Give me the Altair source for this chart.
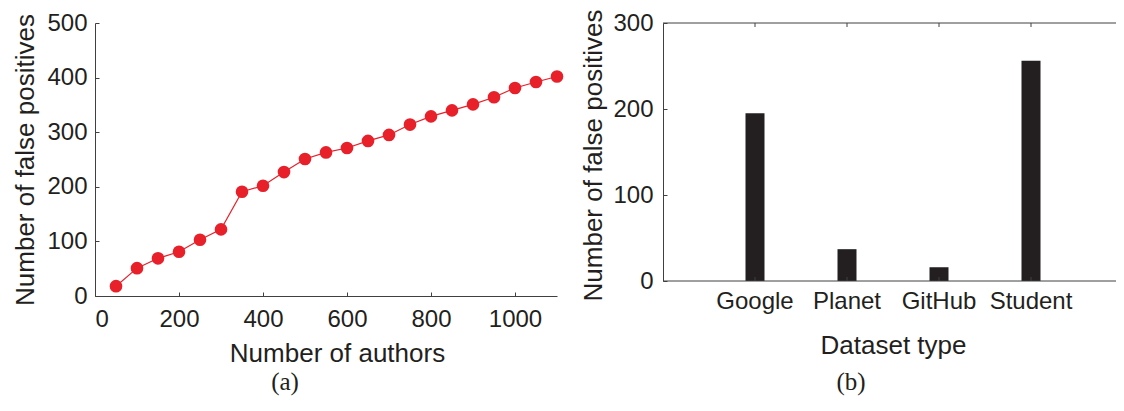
import altair as alt
import pandas as pd

# ---- data (a) ----
authors = [50, 100, 150, 200, 250, 300, 350, 400, 450, 500, 550,
           600, 650, 700, 750, 800, 850, 900, 950, 1000, 1050, 1100]
false_pos_a = [18, 51, 69, 81, 103, 122, 191, 202, 227, 251, 263,
               271, 284, 295, 314, 329, 340, 351, 364, 381, 392, 402]
x_ticks_a = [0, 200, 400, 600, 800, 1000]
y_ticks_a = [0, 100, 200, 300, 400, 500]

# ---- data (b) ----
datasets = ["Google", "Planet", "GitHub", "Student"]
false_pos_b = [195, 37, 16, 256]
y_ticks_b = [0, 100, 200, 300]

df_a = pd.DataFrame({"authors": authors, "fp": false_pos_a})
df_b = pd.DataFrame({"dataset": datasets, "fp": false_pos_b})

FONT = "Liberation Sans"
SERIF = "Liberation Serif"
TXT = "#231f20"
AX = "#404040"
RED = "#e8202a"

WA, HA = 462, 273
WB, HB = 460, 258

axis_common = dict(
    labelFont=FONT, titleFont=FONT, labelFontSize=24, titleFontSize=26,
    labelColor=TXT, titleColor=TXT, titleFontWeight="normal",
    domainColor=AX, domainWidth=1, ticks=False, grid=True,
    gridColor=AX, gridWidth=1, gridOpacity=1,
)

# ---- panel (a) ----
xa = alt.X("authors:Q", title="Number of authors",
           scale=alt.Scale(domain=[0, 1100], nice=False),
           axis=alt.Axis(values=x_ticks_a, format="d", labelPadding=11,
                         titlePadding=9, titleX=WA / 2 + 11,
                         gridDash=[0, HA - 4, 4, 2000], **axis_common))
ya = alt.Y("fp:Q", title="Number of false positives",
           scale=alt.Scale(domain=[0, 500], nice=False),
           axis=alt.Axis(values=y_ticks_a, labelPadding=8, titlePadding=8,
                         gridDash=[4, 2000], **axis_common))

base_a = alt.Chart(df_a).encode(x=xa, y=ya)
line_a = base_a.mark_line(color=RED, strokeWidth=1.2)
pts_a = base_a.mark_point(filled=True, shape="circle", size=160, color=RED, opacity=1)
cap_a = alt.Chart(pd.DataFrame({"t": ["(a)"]})).mark_text(
    font=SERIF, fontSize=25, color=TXT, baseline="middle", align="center"
).encode(text="t:N", x=alt.value(190), y=alt.value(359))

panel_a = alt.layer(line_a, pts_a, cap_a).properties(
    width=WA, height=HA, view=alt.ViewBackground(stroke=None))

# ---- panel (b) ----
xb = alt.X("dataset:N", title="Dataset type", sort=datasets,
           scale=alt.Scale(paddingInner=0, paddingOuter=0.5),
           axis=alt.Axis(labelAngle=0, labelPadding=8, titlePadding=19,
                         domain=False, grid=False, ticks=False,
                         labelFont=FONT, titleFont=FONT, labelFontSize=24,
                         titleFontSize=26, labelColor=TXT, titleColor=TXT,
                         titleFontWeight="normal"))
yb = alt.Y("fp:Q", title="Number of false positives",
           scale=alt.Scale(domain=[0, 300], nice=False),
           axis=alt.Axis(values=y_ticks_b, labelPadding=10, titlePadding=6,
                         titleY=132,
                         gridDash=[4, WB - 8, 4, 2000], **axis_common))

bars_b = alt.Chart(df_b).mark_bar(color=TXT, size=19).encode(x=xb, y=yb)
tick_top = alt.Chart(df_b).mark_rule(color=AX, strokeWidth=1).encode(
    x=alt.X("dataset:N", sort=datasets), y=alt.value(0), y2=alt.value(4))
tick_bottom = alt.Chart(df_b).mark_rule(color=AX, strokeWidth=1).encode(
    x=alt.X("dataset:N", sort=datasets), y=alt.value(HB - 4), y2=alt.value(HB))
frame_top = alt.Chart(pd.DataFrame({"k": [0]})).mark_rule(
    color=AX, strokeWidth=1).encode(y=alt.value(0))
frame_bottom = alt.Chart(pd.DataFrame({"k": [0]})).mark_rule(
    color=AX, strokeWidth=1).encode(y=alt.value(HB))
cap_b = alt.Chart(pd.DataFrame({"t": ["(b)"]})).mark_text(
    font=SERIF, fontSize=25, color=TXT, baseline="middle", align="center"
).encode(text="t:N", x=alt.value(188), y=alt.value(359))

panel_b = alt.layer(bars_b, tick_top, tick_bottom, frame_top, frame_bottom,
                    cap_b).properties(
    width=WB, height=HB, view=alt.ViewBackground(stroke=None))

chart = alt.hconcat(panel_a, panel_b, spacing=16).properties(
    autosize=alt.AutoSizeParams(type="none"),
    padding={"left": 87, "top": 15, "right": 1021, "bottom": 375},
).configure(background="white").configure_view(stroke=None)

chart.save("out.html", embed_options={"renderer": "svg", "actions": False})
